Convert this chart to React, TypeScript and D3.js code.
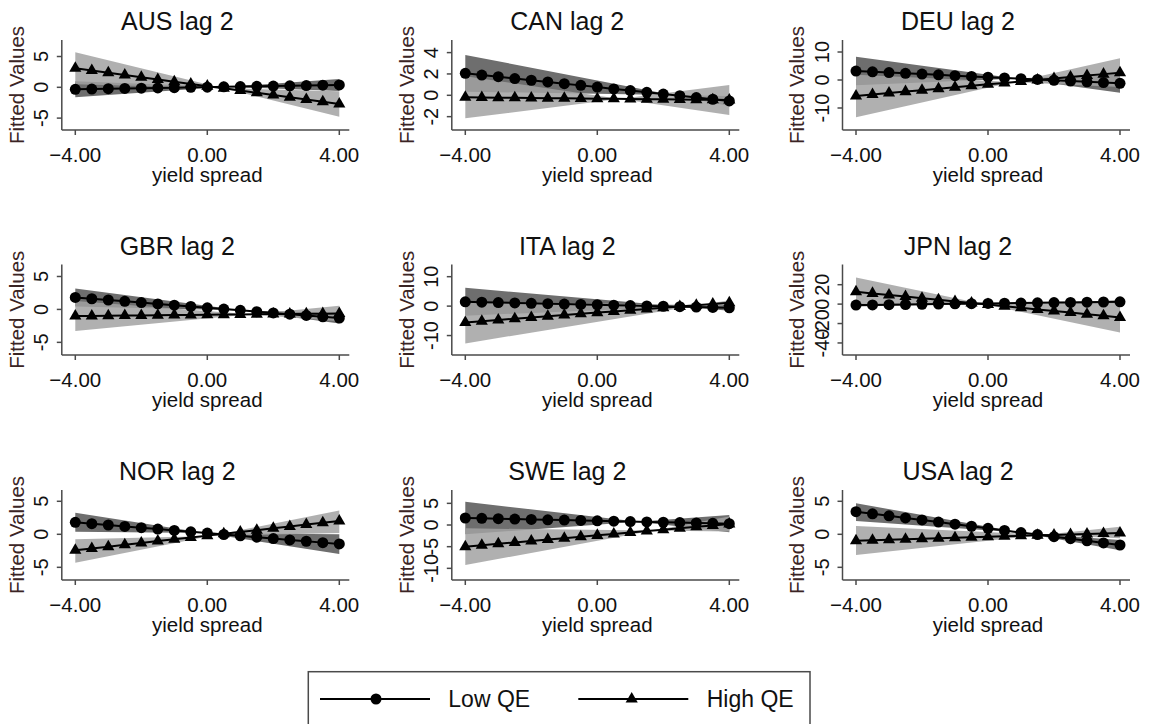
import React from "react";
import * as d3 from "d3";

// ---------- data ----------
const xValues = [-4, -3.5, -3, -2.5, -2, -1.5, -1, -0.5, 0, 0.5, 1, 1.5, 2, 2.5, 3, 3.5, 4];
const ciX = [-4, 4];
const xTicks = [-4, 0, 4];
const seriesNames = ["Low QE", "High QE"];

const ausLow = [-0.32, -0.28, -0.23, -0.19, -0.14, -0.1, -0.06, -0.01, 0.03, 0.08, 0.12, 0.16, 0.21, 0.25, 0.29, 0.34, 0.38];
const ausHigh = [3.08, 2.72, 2.36, 2.0, 1.64, 1.27, 0.91, 0.55, 0.19, -0.17, -0.53, -0.89, -1.25, -1.61, -1.98, -2.34, -2.7];
const ausLowCi = [[0.98, -0.59], [-1.62, 1.35]];
const ausHighCi = [[5.68, -4.76], [0.48, -0.64]];
const ausTicks = [-5, 0, 5];
const ausRange = [-6.93, 7.68];

const canLow = [2.06, 1.9, 1.74, 1.57, 1.41, 1.25, 1.09, 0.93, 0.77, 0.6, 0.44, 0.28, 0.12, -0.04, -0.21, -0.37, -0.53];
const canHigh = [-0.19, -0.21, -0.22, -0.24, -0.25, -0.27, -0.28, -0.3, -0.32, -0.33, -0.35, -0.36, -0.38, -0.39, -0.41, -0.42, -0.44];
const canLowCi = [[3.78, -1.0], [0.34, -0.06]];
const canHighCi = [[1.78, -1.85], [-2.16, 0.97]];
const canTicks = [-2, 0, 2, 4];
const canRange = [-3.25, 5.18];

const deuLow = [3.21, 2.94, 2.66, 2.39, 2.11, 1.84, 1.56, 1.29, 1.01, 0.74, 0.46, 0.19, -0.09, -0.36, -0.64, -0.91, -1.19];
const deuHigh = [-5.71, -5.19, -4.67, -4.15, -3.63, -3.11, -2.59, -2.06, -1.55, -1.03, -0.51, 0.02, 0.54, 1.06, 1.58, 2.1, 2.62];
const deuLowCi = [[8.33, -4.52], [-1.91, 2.14]];
const deuHighCi = [[1.9, -2.5], [-13.3, 7.74]];
const deuTicks = [-10, 0, 10];
const deuRange = [-17.86, 14.29];

const gbrLow = [1.82, 1.62, 1.43, 1.23, 1.04, 0.84, 0.64, 0.45, 0.25, 0.06, -0.14, -0.34, -0.53, -0.73, -0.92, -1.12, -1.31];
const gbrHigh = [-1.01, -0.99, -0.96, -0.94, -0.91, -0.89, -0.86, -0.84, -0.81, -0.79, -0.76, -0.74, -0.71, -0.69, -0.66, -0.64, -0.61];
const gbrLowCi = [[3.18, -2.12], [0.46, -0.5]];
const gbrHighCi = [[1.26, -1.78], [-3.28, 0.56]];
const gbrTicks = [-5, 0, 5];
const gbrRange = [-6.92, 6.82];

const itaLow = [1.47, 1.34, 1.22, 1.09, 0.96, 0.84, 0.71, 0.58, 0.46, 0.33, 0.2, 0.07, -0.05, -0.18, -0.31, -0.43, -0.56];
const itaHigh = [-5.54, -5.12, -4.71, -4.29, -3.87, -3.46, -3.04, -2.62, -2.21, -1.79, -1.37, -0.96, -0.54, -0.12, 0.3, 0.71, 1.13];
const itaLowCi = [[6.21, -1.6], [-3.27, 0.5]];
const itaHighCi = [[1.58, 0.2], [-12.66, 2.0]];
const itaTicks = [-10, 0, 10];
const itaRange = [-16.61, 14.14];

const jpnLow = [-1.03, -0.82, -0.6, -0.39, -0.17, 0.04, 0.26, 0.47, 0.69, 0.9, 1.12, 1.33, 1.55, 1.76, 1.98, 2.19, 2.4];
const jpnHigh = [12.7, 11.05, 9.4, 7.75, 6.1, 4.45, 2.8, 1.15, -0.5, -2.15, -3.8, -5.45, -7.1, -8.75, -10.4, -12.05, -13.7];
const jpnLowCi = [[0.4, 1.0], [-2.5, 3.8]];
const jpnHighCi = [[27.4, -29.1], [-2.0, 1.7]];
const jpnTicks = [-40, -20, 0, 20];
const jpnRange = [-52.4, 40.8];

const norLow = [1.82, 1.61, 1.41, 1.2, 1.0, 0.79, 0.59, 0.38, 0.18, -0.03, -0.23, -0.44, -0.64, -0.85, -1.05, -1.26, -1.46];
const norHigh = [-2.42, -2.14, -1.87, -1.59, -1.31, -1.03, -0.76, -0.48, -0.2, 0.08, 0.36, 0.63, 0.91, 1.19, 1.47, 1.74, 2.02];
const norLowCi = [[3.27, -3.0], [0.4, 0.0]];
const norHighCi = [[-0.76, 0.2], [-4.3, 3.6]];
const norTicks = [-5, 0, 5];
const norRange = [-6.92, 6.71];

const sweLow = [1.62, 1.54, 1.46, 1.37, 1.29, 1.21, 1.13, 1.05, 0.97, 0.88, 0.8, 0.72, 0.64, 0.56, 0.47, 0.39, 0.31];
const sweHigh = [-5.0, -4.67, -4.35, -4.02, -3.69, -3.37, -3.04, -2.71, -2.39, -2.06, -1.73, -1.4, -1.08, -0.75, -0.42, -0.1, 0.23];
const sweLowCi = [[5.38, -1.69], [-2.14, 2.31]];
const sweHighCi = [[-0.77, -1.5], [-9.23, 1.96]];
const sweTicks = [-10, -5, 0, 5];
const sweRange = [-12.69, 8.08];

const usaLow = [3.43, 3.11, 2.8, 2.48, 2.17, 1.85, 1.54, 1.22, 0.91, 0.59, 0.27, -0.04, -0.36, -0.67, -0.99, -1.3, -1.62];
const usaHigh = [-0.96, -0.89, -0.81, -0.74, -0.67, -0.6, -0.52, -0.45, -0.38, -0.31, -0.23, -0.16, -0.09, -0.02, 0.06, 0.13, 0.2];
const usaLowCi = [[4.7, -2.4], [2.02, -0.85]];
const usaHighCi = [[1.26, -0.6], [-3.13, 1.16]];
const usaTicks = [-5, 0, 5];
const usaRange = [-6.92, 6.71];

const panelTitles = ["AUS lag 2", "CAN lag 2", "DEU lag 2", "GBR lag 2", "ITA lag 2", "JPN lag 2", "NOR lag 2", "SWE lag 2", "USA lag 2"];

// ---------- layout ----------
const W = 1150;
const H = 724;
const colX0 = [75.3, 465.3, 856];
const rowTop = [40, 264.5, 490];
const rowBottom = [130, 355, 580];
const plotW = 264;
const FONT = "'Liberation Sans', Arial, Helvetica, sans-serif";
const AXIS = "#4a4a4a";
const TEXT = "#111";
const DARK = "#6e6e6e";
const LIGHT = "rgb(162,162,162)";

const panels = [
  { low: ausLow, high: ausHigh, lowCi: ausLowCi, highCi: ausHighCi, ticks: ausTicks, range: ausRange },
  { low: canLow, high: canHigh, lowCi: canLowCi, highCi: canHighCi, ticks: canTicks, range: canRange },
  { low: deuLow, high: deuHigh, lowCi: deuLowCi, highCi: deuHighCi, ticks: deuTicks, range: deuRange },
  { low: gbrLow, high: gbrHigh, lowCi: gbrLowCi, highCi: gbrHighCi, ticks: gbrTicks, range: gbrRange },
  { low: itaLow, high: itaHigh, lowCi: itaLowCi, highCi: itaHighCi, ticks: itaTicks, range: itaRange },
  { low: jpnLow, high: jpnHigh, lowCi: jpnLowCi, highCi: jpnHighCi, ticks: jpnTicks, range: jpnRange },
  { low: norLow, high: norHigh, lowCi: norLowCi, highCi: norHighCi, ticks: norTicks, range: norRange },
  { low: sweLow, high: sweHigh, lowCi: sweLowCi, highCi: sweHighCi, ticks: sweTicks, range: sweRange },
  { low: usaLow, high: usaHigh, lowCi: usaLowCi, highCi: usaHighCi, ticks: usaTicks, range: usaRange },
];

const triPath = d3.symbol().type(d3.symbolTriangle).size(64)() as string;

function Panel({ idx }: { idx: number }) {
  const p = panels[idx];
  const col = idx % 3;
  const row = Math.floor(idx / 3);
  const x0 = colX0[col];
  const top = rowTop[row];
  const bottom = rowBottom[row];
  const xs = d3.scaleLinear().domain([-4, 4]).range([x0, x0 + plotW]);
  const ys = d3.scaleLinear().domain(p.range).range([bottom, top]);
  const axisX = x0 - 13.5;
  const axisRight = x0 + plotW + 10;

  const band = (ci: number[][]) => {
    const data = ciX.map((x, i) => ({ x, a: ci[0][i], b: ci[1][i] }));
    return d3
      .area<{ x: number; a: number; b: number }>()
      .x((d) => xs(d.x))
      .y0((d) => ys(d.b))
      .y1((d) => ys(d.a))(data) as string;
  };
  const line = (vals: number[]) =>
    d3
      .line<number>()
      .x((_, i) => xs(xValues[i]))
      .y((d) => ys(d))(vals) as string;

  const midY = (top + bottom) / 2;

  return (
    <g>
      <text x={x0 + 102} y={top - 10} textAnchor="middle" fontFamily={FONT} fontSize={25} fill={TEXT}>
        {panelTitles[idx]}
      </text>
      <path d={band(p.lowCi)} fill={DARK} stroke="none" />
      <path d={band(p.highCi)} fill={LIGHT} fillOpacity={0.85} stroke="none" />
      <path d={line(p.high)} fill="none" stroke="#000" strokeWidth={2} />
      {p.high.map((v, i) => (
        <path key={"t" + i} d={triPath} transform={`translate(${xs(xValues[i])},${ys(v)})`} fill="#000" />
      ))}
      <path d={line(p.low)} fill="none" stroke="#000" strokeWidth={2} />
      {p.low.map((v, i) => (
        <circle key={"c" + i} cx={xs(xValues[i])} cy={ys(v)} r={5.5} fill="#000" />
      ))}
      {/* axes */}
      <line x1={axisX} x2={axisX} y1={top} y2={bottom} stroke={AXIS} strokeWidth={1.5} />
      <line x1={axisX} x2={axisRight} y1={bottom} y2={bottom} stroke={AXIS} strokeWidth={1.5} />
      {p.ticks.map((t) => (
        <g key={"yt" + t}>
          <line x1={axisX - 5} x2={axisX} y1={ys(t)} y2={ys(t)} stroke={AXIS} strokeWidth={1.5} />
          <text
            transform={`translate(${axisX - 13.4},${ys(t)}) rotate(-90)`}
            textAnchor="middle"
            fontFamily={FONT}
            fontSize={20}
            fill={TEXT}
          >
            {t}
          </text>
        </g>
      ))}
      {xTicks.map((t) => (
        <g key={"xt" + t}>
          <line x1={xs(t)} x2={xs(t)} y1={bottom} y2={bottom + 5} stroke={AXIS} strokeWidth={1.5} />
          <text x={xs(t)} y={bottom + 32.3} textAnchor="middle" fontFamily={FONT} fontSize={20.5} fill={TEXT}>
            {d3.format(".2f")(t)}
          </text>
        </g>
      ))}
      <text x={xs(0)} y={bottom + 52} textAnchor="middle" fontFamily={FONT} fontSize={20.5} fill={TEXT}>
        yield spread
      </text>
      <text
        transform={`translate(${axisX - 38.2},${midY}) rotate(-90)`}
        textAnchor="middle"
        fontFamily={FONT}
        fontSize={20.5}
        fill="#3a2424"
      >
        Fitted Values
      </text>
    </g>
  );
}

function Legend() {
  const y = 699;
  return (
    <g>
      <rect x={308.3} y={671.7} width={501.7} height={80} fill="#fff" stroke={AXIS} strokeWidth={1.5} />
      <line x1={320} x2={430} y1={y} y2={y} stroke="#000" strokeWidth={2} />
      <circle cx={376} cy={y} r={5.5} fill="#000" />
      <text x={448.3} y={706.7} fontFamily={FONT} fontSize={23} fill={TEXT}>
        {seriesNames[0]}
      </text>
      <line x1={578.3} x2={688.3} y1={y} y2={y} stroke="#000" strokeWidth={2} />
      <path d={triPath} transform={`translate(${631.7},${y})`} fill="#000" />
      <text x={706.7} y={706.7} fontFamily={FONT} fontSize={23} fill={TEXT}>
        {seriesNames[1]}
      </text>
    </g>
  );
}

export default function App() {
  return (
    <svg
      width={W}
      height={H}
      viewBox={`0 0 ${W} ${H}`}
      style={{ position: "absolute", left: 0, top: 0, background: "#fff" }}
    >
      <rect x={0} y={0} width={W} height={H} fill="#fff" />
      {panels.map((_, i) => (
        <Panel key={i} idx={i} />
      ))}
      <Legend />
    </svg>
  );
}
